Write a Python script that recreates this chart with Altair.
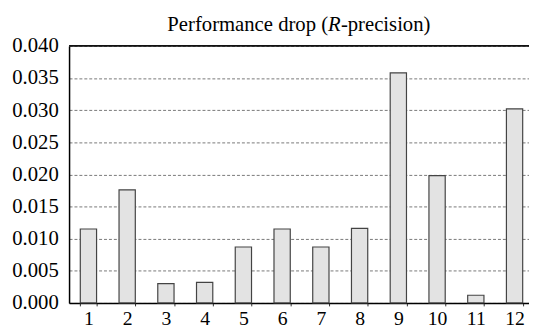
import altair as alt
import pandas as pd

categories = [str(i) for i in range(1, 13)]
values = [0.0115, 0.0176, 0.0030, 0.0032, 0.0087, 0.0115, 0.0087, 0.0116, 0.0358, 0.0198, 0.0012, 0.0302]
y_ticks = [0.0, 0.005, 0.010, 0.015, 0.020, 0.025, 0.030, 0.035, 0.040]
top_value = [0.04]

df = pd.DataFrame({"cat": categories, "val": values})

FONT = "Liberation Serif"
W, H = 467, 261

y_scale = alt.Scale(domain=[0, 0.04], nice=False)
y_axis = alt.Axis(values=y_ticks, format=".3f", labelFont=FONT, labelFontSize=21,
                  labelColor="black", domainColor="black", domainWidth=1.5,
                  ticks=False, labelPadding=11, grid=True, gridColor="#555",
                  gridDash=[3, 2], gridWidth=0.8, labelOverlap=False, labelFlush=False)

x = alt.X("cat:N", sort=categories, title=None,
          scale=alt.Scale(range=[0, 472], paddingInner=0.58, paddingOuter=0.29),
          axis=alt.Axis(labelAngle=0, labelFont=FONT, labelFontSize=20, labelColor="black",
                        domainColor="black", domainWidth=1.5, tickColor="#333",
                        tickBand="extent", tickSize=3, labelPadding=3, labelOverlap=False))

bars = alt.Chart(df).mark_bar(fill="#e3e3e3", stroke="#444", strokeWidth=1.2).encode(
    x=x, y=alt.Y("val:Q", title=None, scale=y_scale, axis=y_axis))

top = alt.Chart(pd.DataFrame({"val": top_value})).mark_rule(color="#111", strokeWidth=2).encode(
    y=alt.Y("val:Q", title=None, scale=y_scale, axis=y_axis))

t1 = alt.Chart(pd.DataFrame({"t": ["Performance drop ("]})).mark_text(
    font=FONT, fontSize=21, align="right", baseline="alphabetic", color="black").encode(
    text="t:N", x=alt.value(263), y=alt.value(-15))
t2 = alt.Chart(pd.DataFrame({"t": ["R"]})).mark_text(
    font=FONT, fontSize=21, fontStyle="italic", align="left", baseline="alphabetic", color="black").encode(
    text="t:N", x=alt.value(263), y=alt.value(-15))
t3 = alt.Chart(pd.DataFrame({"t": ["-precision)"]})).mark_text(
    font=FONT, fontSize=21, align="left", baseline="alphabetic", color="black").encode(
    text="t:N", x=alt.value(276), y=alt.value(-15))

chart = alt.layer(bars, top, t1, t2, t3).properties(
    width=W, height=H,
    autosize=alt.AutoSizeParams(type="none"),
    padding={"left": 62, "top": 36, "right": 0, "bottom": 24},
).configure_view(stroke=None).configure(background="white")

chart.save("out.html", embed_options={"renderer": "svg", "actions": False})
